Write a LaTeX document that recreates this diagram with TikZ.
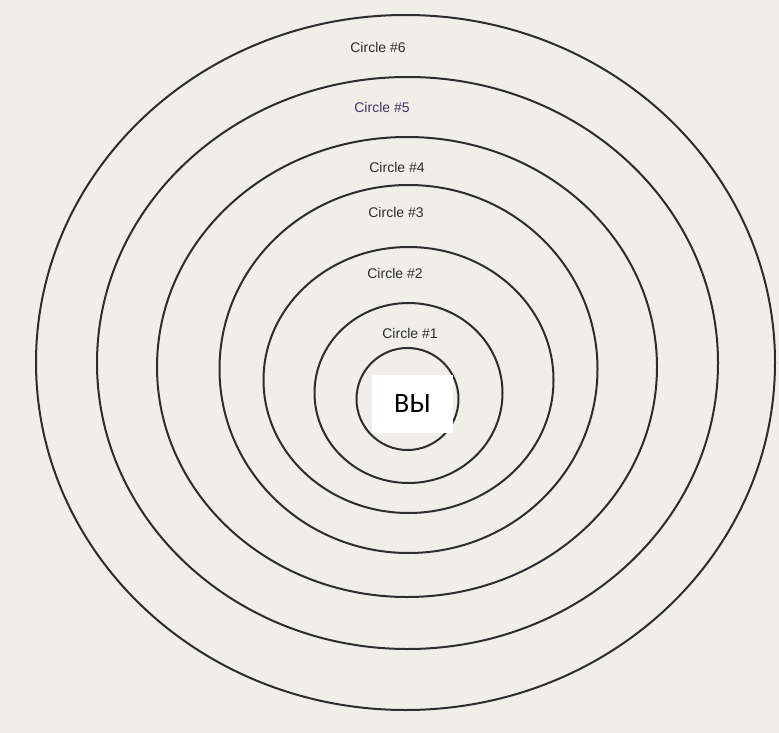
\documentclass[tikz,border=0pt]{standalone}
\usepackage{fontspec}
\setmainfont{Liberation Sans}
\newfontfamily\boxfont{Carlito}
\definecolor{paper}{RGB}{240,238,233}
\definecolor{ink}{RGB}{45,45,48}
\definecolor{labelink}{RGB}{45,45,40}
\definecolor{purpleink}{RGB}{70,50,95}
\tikzset{
  ring/.style={draw=ink, line width=2pt},
  ringlabel/.style={font=\fontsize{14}{16}\selectfont, text=labelink, inner sep=0pt},
  youbox/.style={fill=white, draw=none, minimum width=81pt, minimum height=58pt, inner sep=0pt,
    font=\boxfont\fontsize{28}{32}\selectfont}
}
\begin{document}
\begin{tikzpicture}[x=1pt,y=-1pt]
\fill[paper] (0,0) rectangle (779,733);
\useasboundingbox (0,0) rectangle (779,733);
% rings (outer to inner)
\draw[ring] (405.5,362.5) ellipse [x radius=369.5, y radius=347.5];
\draw[ring] (407.5,363) ellipse [x radius=310.5, y radius=286];
\draw[ring] (407,367) ellipse [x radius=250, y radius=230];
\draw[ring] (408.5,369) ellipse [x radius=189, y radius=184];
\draw[ring] (408.5,380) ellipse [x radius=145, y radius=133];
\draw[ring] (408.5,393) ellipse [x radius=94, y radius=90];
\draw[ring] (407.5,399) ellipse [x radius=51, y radius=51];
% labels
\node[ringlabel] (c6) at (378,47) {Circle \#6};
\node[ringlabel, text=purpleink] (c5) at (382,107) {Circle \#5};
\node[ringlabel] (c4) at (397,167) {Circle \#4};
\node[ringlabel] (c3) at (396,212) {Circle \#3};
\node[ringlabel] (c2) at (395,273) {Circle \#2};
\node[ringlabel] (c1) at (410,333) {Circle \#1};
% you box
\node[youbox] (you) at (412.5,404) {ВЫ};
\end{tikzpicture}
\end{document}
